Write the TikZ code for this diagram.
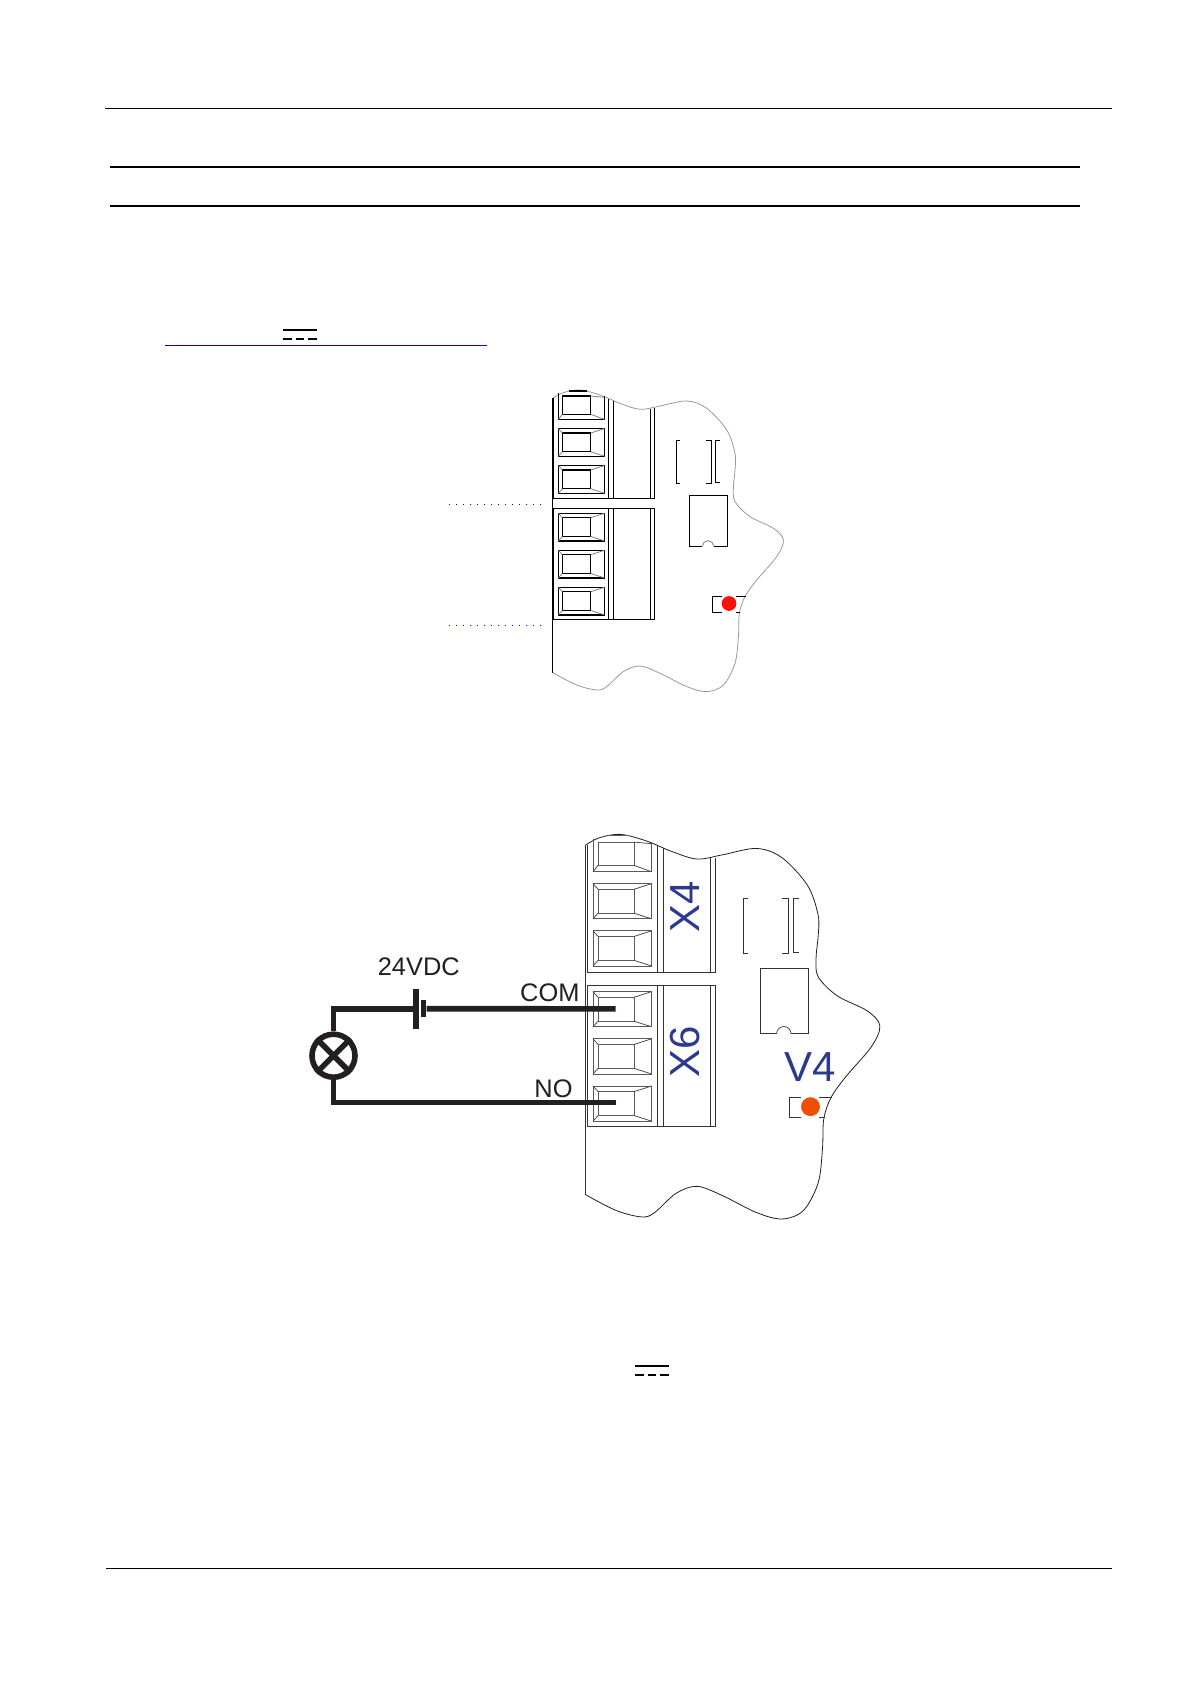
\documentclass[tikz,border=0pt]{standalone}
\usepackage{fontspec}
\setmainfont{Liberation Sans}
\usepackage{xcolor}
\usepackage{tikz}
\definecolor{inkdark}{HTML}{231F20}
\definecolor{boardblue}{HTML}{2B3990}
\definecolor{ledred}{HTML}{FF1010}
\definecolor{ledorange}{HTML}{F04E00}
\tikzset{
	rulethin/.style={draw=black, line width=0.6pt},
	rulethick/.style={draw=black, line width=1.1pt},
	rulelink/.style={draw=blue!85!black, line width=0.5pt},
	leader/.style={draw=blue, line width=0.5pt, dash pattern=on 0.5pt off 3pt},
	wire/.style={draw=inkdark, line width=2.8pt},
	plate/.style={fill=inkdark, inner sep=0pt, minimum width=2.6pt},
	boardline/.style={draw=black, line width=0.6pt},
	termline/.style={draw=black, line width=0.6pt},
	bevel/.style={draw=black!50, line width=0.4pt},
	outline/.style={draw=black!40, line width=0.4pt},
	wirelabel/.style={text=inkdark, font=\fontsize{12.7}{15}\selectfont, inner sep=0pt},
	boardlabel/.style={text=boardblue, font=\fontsize{21}{25}\selectfont, inner sep=0pt},
	pics/dcsign/.style={code={
		\draw[draw=black, line width=1pt] (0,0) -- (34,0);
		\draw[draw=black, line width=1pt, dash pattern=on 4.35pt off 2pt] (0,9) -- (34,9);
	}},
	pics/board/.style={code={
		% outline of the cut-out
		\draw[outline] plot[smooth, tension=0.55] coordinates {(0,0) (10.7,-5.7) (27.3,-8.3) (47.3,-3.3) (67.3,5)
			(87.3,11) (107.3,7.7) (134,2.7) (154,10) (174,31.7) (182.3,55) (182.3,71.7) (180.7,88.3)
			(182.3,103.3) (197.3,118.3) (220.7,130) (230.7,141.7) (224,158.3) (204,181.7) (192.3,198.3)
			(186.7,215) (185.7,238.3) (182.3,265) (170.7,286.7) (154,293.3) (134,288.3) (107.3,275)
			(87.3,267.7) (70.7,273.3) (54,288.3) (44,291.7) (24,286.7) (0,274.3)};
		\draw[boardline] (0,0) -- (0,274.3);
		% upper terminal block
		\draw[boardline] (1,0) -- (1,100) -- (101.7,100) -- (101.7,10);
		\draw[boardline] (56,1) -- (56,100);
		\draw[boardline] (60.7,2.3) -- (60.7,100);
		\draw[boardline] (97.7,10.5) -- (97.7,100);
		% lower terminal block
		\draw[boardline] (1,110) rectangle (101.7,221);
		\draw[boardline] (56,110) -- (56,221);
		\draw[boardline] (60.7,110) -- (60.7,221);
		\draw[boardline] (97.7,110) -- (97.7,221);
		% top terminal, cut off by the outline
		\draw[termline] (16.3,-7.3) -- (34,-7.3);
		\draw[termline] (5.7,-5) -- (5.7,21) -- (51.7,21) -- (51.7,-2);
		\draw[termline] (9.7,-2.3) rectangle (38,16);
		\draw[bevel] (5.7,21) -- (9.7,16);
		\draw[bevel] (51.7,21) -- (38,16);
		\draw[bevel] (51.7,-1) -- (38,-2.3);
		% remaining terminals
		\foreach \toprow in {30.3,67.3,115,152,189} {
			\draw[termline] (5.7,\toprow) rectangle (51.7,\toprow+27.6);
			\draw[termline] (9.7,\toprow+4.4) rectangle (38,\toprow+23.2);
			\draw[bevel] (5.7,\toprow) -- (9.7,\toprow+4.4);
			\draw[bevel] (5.7,\toprow+27.6) -- (9.7,\toprow+23.2);
			\draw[bevel] (51.7,\toprow) -- (38,\toprow+4.4);
			\draw[bevel] (51.7,\toprow+27.6) -- (38,\toprow+23.2);
		}
		% jumper brackets
		\draw[boardline] (127.3,42) -- (123.7,42) -- (123.7,85.3) -- (127.3,85.3);
		\draw[boardline] (153.7,42) -- (159,42) -- (159,85.3) -- (153.7,85.3);
		\draw[boardline] (167.3,42) -- (162.7,42) -- (162.7,84.3) -- (167.3,84.3);
		% chip
		\draw[boardline] (149.7,148) -- (136.7,148) -- (136.7,97) -- (174.7,97) -- (174.7,148) -- (161,148);
		\draw[bevel] (149.7,148) arc (180:360:5.65);
		% led
		\draw[boardline] (169,198) -- (159.7,198) -- (159.7,214) -- (169,214);
		\draw[boardline] (183.3,198) -- (193,198);
		\draw[boardline] (183.3,214) -- (187.3,214);
		\fill[#1] (176.3,205.2) circle (7.4);
		\coordinate (-com) at (23.4,128.5);
		\coordinate (-no) at (23.4,201.8);
	}}
}
\begin{document}
\begin{tikzpicture}[x=0.5pt, y=-0.5pt]
	\useasboundingbox (0,0) rectangle (1192,1685);
	% page rules
	\draw[rulethin] (105,108.5) -- (1112,108.5);
	\draw[rulethick] (110,167) -- (1080,167);
	\draw[rulethick] (110,206) -- (1080,206);
	\draw[rulethin] (106,1568.5) -- (1112,1568.5);
	\draw[rulelink] (165,345.5) -- (487,345.5);
	\pic (dctop) at (283,330) {dcsign};
	\pic (dcnote) at (635,1365.5) {dcsign};

	% upper board
	\pic (upper) at (552.7,398.3) {board=ledred};
	\coordinate (leadone) at (449,504.5);
	\coordinate (leadoneend) at (546,504.5);
	\coordinate (leadtwo) at (449,625.5);
	\coordinate (leadtwoend) at (546,625.5);
	\draw[leader] (leadone) -- (leadoneend);
	\draw[leader] (leadtwo) -- (leadtwoend);

	% lower board
	\pic (lower) [scale=1.275, boardline/.append style={draw=black!80, line width=0.45pt},
		termline/.append style={draw=black!65, line width=0.45pt},
		bevel/.append style={draw=black!70}, outline/.append style={draw=inkdark}] at (585.7,845) {board=ledorange};
	\node[boardlabel, rotate=90] (xfour) at (685,907) {X4};
	\node[boardlabel, rotate=90] (xsix) at (685,1052.3) {X6};
	\node[boardlabel] (vfour) at (809.8,1067) {V4};

	% wiring
	\node[plate, minimum height=20pt] (platelong) at (416,1008.7) {};
	\node[plate, minimum height=8.5pt] (plateshort) at (423.5,1008.7) {};
	\node[draw=inkdark, line width=2.8pt, circle, inner sep=0pt, minimum size=21.5pt] (lamp) at (333.5,1055.7) {};
	\draw[wire] (lamp.45) -- (lamp.225);
	\draw[wire] (lamp.135) -- (lamp.-45);
	\draw[wire] (lower-com) -- (plateshort.east);
	\draw[wire] (platelong.west) -| (lamp.north);
	\draw[wire] (lamp.south) |- (lower-no);
	\node[wirelabel] (vdc) at (418.8,966.7) {24VDC};
	\node[wirelabel] (comlabel) at (549.8,993) {COM};
	\node[wirelabel] (nolabel) at (553.5,1088.3) {NO};
\end{tikzpicture}
\end{document}
